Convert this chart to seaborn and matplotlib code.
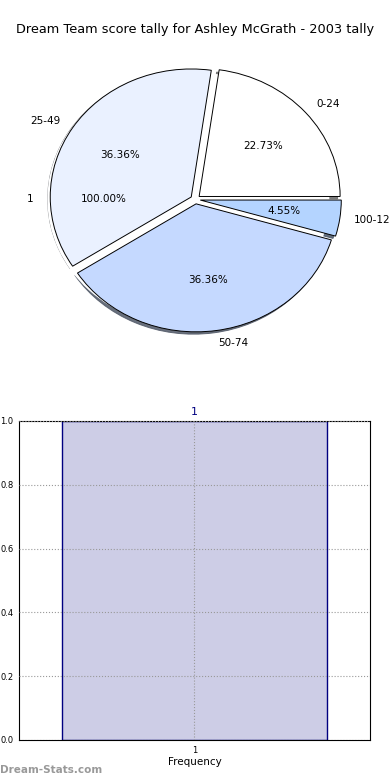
import matplotlib
matplotlib.use("Agg")
import matplotlib.pyplot as plt
import seaborn as sns
import pandas as pd

sns.set_style("white")
plt.rcParams['font.family'] = ['DejaVu Sans']
plt.rcParams['text.color'] = 'black'
plt.rcParams['axes.labelcolor'] = 'black'
plt.rcParams['xtick.color'] = 'black'
plt.rcParams['ytick.color'] = 'black'

# ---- data ----
title = "Dream Team score tally for Ashley McGrath - 2003 tally"
pie_labels = ['0-24', '25-49', '50-74', '100-124']
pie_values = [5, 8, 8, 1]
pie_colors = ['#ffffff', '#eaf1ff', '#c5d9ff', '#b4d4ff']
total_labels = ['1']
total_values = [1]
freq_categories = ['1']
freq_values = [1]
y_ticks = [0.0, 0.2, 0.4, 0.6, 0.8, 1.0]

fig = plt.figure(figsize=(3.9, 7.8), dpi=100)
fig.text(0.5, 1 - 30 / 780, title, ha='center', va='center', fontsize=9.3)

# ---- pie ----
axp = fig.add_axes([0.031, 0.531, 0.94, 0.4267])
axp.pie(total_values, labels=total_labels, autopct='%1.2f%%', explode=[0.05],
        colors=['#ffffff'], wedgeprops=dict(linewidth=0),
        textprops=dict(fontsize=7.5))
axp.pie(pie_values, labels=pie_labels, autopct='%1.2f%%',
        explode=[0.035] * len(pie_values), colors=pie_colors,
        shadow={'ox': -0.013, 'oy': -0.013, 'shade': 0.6, 'alpha': 0.85},
        wedgeprops=dict(edgecolor='black', linewidth=0.7),
        textprops=dict(fontsize=7.5))
axp.set_aspect('auto')
axp.set_xlim(-1.3, 1.3)
axp.set_ylim(-1.3, 1.3)
axp.axis('off')

# ---- bar ----
axb = fig.add_axes([0.0487, 0.0513, 0.9, 0.409])
df = pd.DataFrame({'cat': freq_categories, 'val': freq_values})
sns.barplot(data=df, x='cat', y='val', ax=axb, color='#cdcde6',
            edgecolor='#000080', linewidth=1.0, width=0.8, saturation=1)
axb.set_xlim(-0.53, 0.53)
axb.set_ylim(0, 1.0)
axb.set_yticks(y_ticks)
axb.set_yticklabels([f"{v:.1f}" for v in y_ticks])
axb.tick_params(axis='both', labelsize=6, length=3, direction='out', pad=1)
axb.grid(True, linestyle=':', color='#999999', linewidth=0.8)
axb.set_axisbelow(False)
for s in axb.spines.values():
    s.set_visible(True)
    s.set_color('black')
    s.set_linewidth(0.8)
axb.set_xlabel('Frequency', fontsize=7.5, labelpad=2)
axb.set_ylabel('')
for i, v in enumerate(freq_values):
    axb.text(i, v + 0.012, freq_categories[i], ha='center', va='bottom',
             color='#000080', fontsize=8)

fig.text(0.0, 1 - 770 / 780, 'Dream-Stats.com', ha='left', va='center',
         fontsize=7.5, color='#999999', fontweight='bold')

fig.savefig('out.png', dpi=100)
